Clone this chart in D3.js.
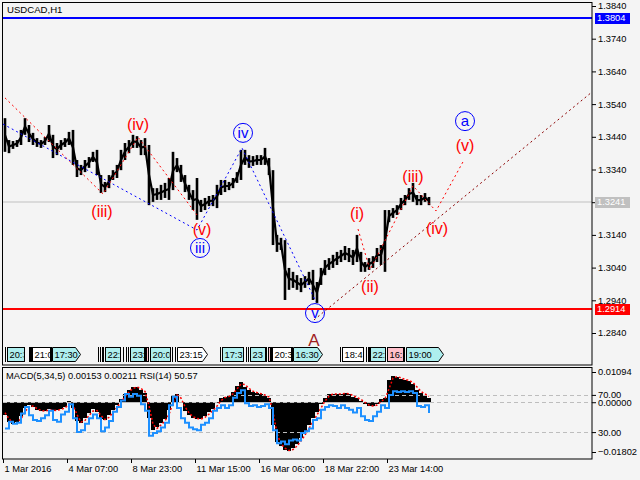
<!DOCTYPE html>
<html>
<head>
<meta charset="utf-8">
<script src="https://cdn.jsdelivr.net/npm/d3@7"></script>
<style>
  body { margin: 0; background: #f4f4f4; }
  svg { display: block; font-family: "Liberation Sans", Arial, sans-serif; }
</style>
</head>
<body>
<svg id="chart" width="640" height="480"></svg>
<script>
// USDCAD H1, each entry = one 4-hour block (high / low)
const barHigh = [
  1.3497, 1.3430, 1.3427, 1.3430, 1.3461, 1.3497, 1.3476, 1.3452, 1.3436, 1.3430,
  1.3439, 1.3476, 1.3446, 1.3421, 1.3430, 1.3436, 1.3455, 1.3461, 1.3369, 1.3354,
  1.3369, 1.3378, 1.3394, 1.3400, 1.3323, 1.3302, 1.3323, 1.3338, 1.3354, 1.3400,
  1.3421, 1.3430, 1.3446, 1.3442, 1.3430, 1.3436, 1.3415, 1.3283, 1.3283, 1.3293,
  1.3299, 1.3314, 1.3394, 1.3375, 1.3354, 1.3323, 1.3293, 1.3277, 1.3314, 1.3247,
  1.3253, 1.3259, 1.3262, 1.3293, 1.3308, 1.3308, 1.3302, 1.3314, 1.3332, 1.3400,
  1.3400, 1.3384, 1.3381, 1.3384, 1.3384, 1.3406, 1.3375, 1.3338, 1.3140, 1.3131,
  1.3124, 1.3039, 1.3027, 1.3017, 1.3008, 1.3014, 1.3027, 1.3033, 1.2996, 1.3039,
  1.3063, 1.3069, 1.3079, 1.3088, 1.3094, 1.3106, 1.3100, 1.3094, 1.3140, 1.3088,
  1.3057, 1.3069, 1.3075, 1.3100, 1.3109, 1.3216, 1.3216, 1.3222, 1.3231, 1.3253,
  1.3262, 1.3283, 1.3299, 1.3262, 1.3262, 1.3268, 1.3256
];
const barLow = [
  1.3394, 1.3390, 1.3403, 1.3409, 1.3415, 1.3446, 1.3424, 1.3415, 1.3409, 1.3406,
  1.3415, 1.3424, 1.3375, 1.3384, 1.3400, 1.3409, 1.3415, 1.3354, 1.3317, 1.3323,
  1.3332, 1.3345, 1.3363, 1.3323, 1.3268, 1.3271, 1.3283, 1.3308, 1.3314, 1.3338,
  1.3369, 1.3390, 1.3406, 1.3406, 1.3384, 1.3384, 1.3231, 1.3241, 1.3247, 1.3247,
  1.3253, 1.3247, 1.3277, 1.3332, 1.3302, 1.3271, 1.3247, 1.3216, 1.3186, 1.3210,
  1.3216, 1.3228, 1.3228, 1.3222, 1.3262, 1.3271, 1.3277, 1.3283, 1.3299, 1.3308,
  1.3354, 1.3345, 1.3351, 1.3354, 1.3354, 1.3354, 1.3323, 1.3109, 1.3088, 1.3094,
  1.2941, 1.2972, 1.2978, 1.2972, 1.2965, 1.2978, 1.2987, 1.2941, 1.2932, 1.2987,
  1.3017, 1.3033, 1.3039, 1.3048, 1.3057, 1.3063, 1.3057, 1.3048, 1.3057, 1.3027,
  1.3027, 1.3033, 1.3039, 1.3057, 1.3048, 1.3027, 1.3179, 1.3192, 1.3201, 1.3216,
  1.3231, 1.3247, 1.3241, 1.3231, 1.3231, 1.3241, 1.3231
];
const macdMain = [
  -0.00463, -0.00717, -0.00789, -0.00717, -0.00500, -0.00210, -0.00101, -0.00174, -0.00282, -0.00319,
  -0.00319, -0.00246, -0.00319, -0.00282, -0.00246, -0.00174, 0.00043, -0.00210, -0.00681, -0.00753,
  -0.00572, -0.00391, -0.00246, -0.00355, -0.00608, -0.00644, -0.00463, -0.00282, -0.00101, 0.00116,
  0.00297, 0.00442, 0.00550, 0.00550, 0.00442, 0.00333, -0.00572, -0.01006, -0.00898, -0.00753,
  -0.00608, -0.00282, 0.00224, 0.00297, 0.00007, -0.00319, -0.00463, -0.00572, -0.00608, -0.00608,
  -0.00500, -0.00355, -0.00246, -0.00029, 0.00152, 0.00188, 0.00224, 0.00369, 0.00586, 0.00731,
  0.00550, 0.00442, 0.00369, 0.00333, 0.00297, 0.00224, 0.00152, -0.00825, -0.01441, -0.01586,
  -0.01730, -0.01767, -0.01658, -0.01513, -0.01296, -0.01079, -0.00825, -0.00572, -0.00355, -0.00065,
  0.00152, 0.00297, 0.00297, 0.00297, 0.00297, 0.00333, 0.00297, 0.00188, 0.00152, 0.00043,
  -0.00065, -0.00138, -0.00138, -0.00065, 0.00116, 0.00152, 0.00804, 0.00948, 0.00912, 0.00840,
  0.00804, 0.00767, 0.00659, 0.00442, 0.00333, 0.00260, 0.00153
];
const macdSignal = [
  -0.00380, -0.00600, -0.00750, -0.00750, -0.00600, -0.00350, -0.00160, -0.00140, -0.00230, -0.00300,
  -0.00320, -0.00280, -0.00290, -0.00300, -0.00260, -0.00210, -0.00060, -0.00090, -0.00450, -0.00720,
  -0.00660, -0.00480, -0.00320, -0.00300, -0.00480, -0.00630, -0.00550, -0.00370, -0.00190, 0.00000,
  0.00200, 0.00370, 0.00500, 0.00550, 0.00500, 0.00390, -0.00120, -0.00800, -0.00950, -0.00820,
  -0.00680, -0.00440, -0.00030, 0.00260, 0.00150, -0.00160, -0.00390, -0.00520, -0.00590, -0.00610,
  -0.00550, -0.00430, -0.00300, -0.00140, 0.00060, 0.00170, 0.00210, 0.00300, 0.00480, 0.00660,
  0.00640, 0.00500, 0.00400, 0.00350, 0.00310, 0.00260, 0.00190, -0.00340, -0.01130, -0.01510,
  -0.01660, -0.01750, -0.01710, -0.01590, -0.01400, -0.01190, -0.00950, -0.00700, -0.00460, -0.00210,
  0.00040, 0.00220, 0.00300, 0.00300, 0.00300, 0.00320, 0.00310, 0.00240, 0.00170, 0.00100,
  -0.00010, -0.00100, -0.00140, -0.00100, 0.00020, 0.00130, 0.00480, 0.00870, 0.00930, 0.00880,
  0.00820, 0.00790, 0.00710, 0.00550, 0.00390, 0.00300, 0.00211
];
const rsiValues = [
  34, 41, 39, 40, 50, 57, 48, 43, 42, 45,
  48, 53, 43, 41, 49, 52, 60, 45, 30, 32,
  39, 45, 49, 45, 31, 35, 42, 52, 57, 64,
  71, 68, 71, 69, 60, 53, 26, 29, 31, 35,
  40, 59, 68, 56, 45, 40, 35, 33, 32, 38,
  40, 45, 53, 56, 59, 56, 59, 67, 72, 75,
  61, 58, 59, 57, 58, 60, 56, 32, 18, 20,
  17, 21, 22, 21, 29, 31, 34, 43, 45, 54,
  57, 59, 58, 56, 59, 56, 54, 51, 56, 47,
  43, 42, 47, 52, 59, 56, 70, 74, 73, 74,
  73, 74, 72, 58, 57, 59, 50.57
];

const priceTicks = [1.3840, 1.3740, 1.3640, 1.3540, 1.3440, 1.3340, 1.3240, 1.3140, 1.3040, 1.2940, 1.2840];
const macdTicks = [0.01094, 0, -0.01802];
const rsiTicks = [70, 30];
const timeTickHours = [0, 64, 128, 192, 256, 320, 384];
const timeTickLabels = ["1 Mar 2016", "4 Mar 07:00", "8 Mar 23:00", "11 Mar 15:00", "16 Mar 06:00", "18 Mar 22:00", "23 Mar 14:00"];

// horizontal levels
const levelPrices = [1.3804, 1.3241, 1.2914];

// wave marking, [hour, price]
const minorWaveLeft = [[2, 1.3559], [100, 1.3265], [135, 1.3439], [194, 1.3201]];
const minorWaveRight = [[355, 1.3158], [367, 1.3033], [410, 1.3290], [433, 1.3213], [461, 1.3369]];
const minuteWave = [[0, 1.3479], [194, 1.3155], [239, 1.3406], [313, 1.2935]];
const trendLine = [[311, 1.2880], [589, 1.3577]];
const minorLabels = [["(iv)", 135, 1.3479], ["(iii)", 99, 1.3213], ["(v)", 199, 1.3158],
  ["(i)", 354, 1.3207], ["(ii)", 367, 1.2981], ["(iii)", 410, 1.3320], ["(iv)", 434, 1.3161], ["(v)", 462, 1.3415]];
const circleLabels = [["iii", 197, 1.3100], ["iv", 240, 1.3452], ["v", 312, 1.2901], ["a", 462, 1.3488]];
const majorLabels = [["A", 311, 1.2819]];

// news markers (start hour, end hour, visible time text, kind)
const newsStart = [4, 29, 49, 102, 127, 143, 147, 174, 219, 247, 265, 269, 290, 339, 367, 384, 403];
const newsEnd = [21, 48, 77, 117, 142, 145, 167, 204, 240, 262, 268, 289, 319, 360, 382, 400, 440];
const newsText = ["20:3", "21:0", "17:30", "22:", "23:", "", "20:0", "23:15", "17:3", "23", "", "20:3", "16:30", "18:4", "22:", "16:3", "19:00"];
const newsKind = ["c", "w", "c>", "c", "c", "p", "c", "w>", "c", "c", "p", "w", "c>", "w", "c", "p", "c>"];
const newsTicks = [2, 4, 26, 28, 95, 97, 99, 100, 120, 123, 125, 169, 172, 243, 363, 366];

const svg = d3.select("#chart");
const bg = "#f4f4f4";
const font = 9.3;

const x = d3.scaleLinear().domain([0, 589]).range([3, 592]);
const y = d3.scaleLinear().domain([1.2840, 1.3840]).range([333, 6]);
const yMacd = d3.scaleLinear().domain([-0.01802, 0.01094]).range([452, 372]);
const yRsi = d3.scaleLinear().domain([0, 100]).range([460, 367]);

svg.append("rect").attr("width", 640).attr("height", 480).attr("fill", bg);

const defs = svg.append("defs");
defs.append("clipPath").attr("id", "mainClip")
  .append("rect").attr("x", 3).attr("y", 2).attr("width", 589).attr("height", 363);
defs.append("clipPath").attr("id", "indClip")
  .append("rect").attr("x", 3).attr("y", 368).attr("width", 589).attr("height", 91);

const main = svg.append("g").attr("clip-path", "url(#mainClip)");
const ind = svg.append("g").attr("clip-path", "url(#indClip)");

// level lines
const levelColor = ["#0000ff", "#c0c0c0", "#ff0000"];
const levelWidth = [2, 1, 2];
levelPrices.forEach((p, i) => {
  main.append("line")
    .attr("x1", 3).attr("x2", 592)
    .attr("y1", Math.round(y(p))).attr("y2", Math.round(y(p)))
    .attr("stroke", levelColor[i]).attr("stroke-width", levelWidth[i]);
});

// price bars: high-low stems plus a thin body through the middle of each block
const mid = i => x(i * 4 + 2);
main.append("path").datum(barHigh)
  .attr("d", d3.line().x((d, i) => mid(i)).y((d, i) => y((d + barLow[i]) / 2)))
  .attr("fill", "none").attr("stroke", "#000").attr("stroke-width", 2.2);
main.selectAll("rect.bar").data(barHigh).enter().append("rect")
  .attr("class", "bar")
  .attr("x", (d, i) => mid(i) - 1.3)
  .attr("width", 2.6)
  .attr("y", d => y(d))
  .attr("height", (d, i) => y(barLow[i]) - y(d))
  .attr("fill", "#000");

// wave lines
const pathLine = d3.line().x(d => x(d[0])).y(d => y(d[1]));
main.append("path").datum(minorWaveLeft).attr("d", pathLine)
  .attr("fill", "none").attr("stroke", "#ff0000").attr("stroke-dasharray", "2,3");
main.append("path").datum(minorWaveRight).attr("d", pathLine)
  .attr("fill", "none").attr("stroke", "#ff0000").attr("stroke-dasharray", "2,3");
main.append("path").datum(minuteWave).attr("d", pathLine)
  .attr("fill", "none").attr("stroke", "#0000ff").attr("stroke-dasharray", "2,3");
main.append("path").datum(trendLine).attr("d", pathLine)
  .attr("fill", "none").attr("stroke", "#8b0000").attr("stroke-dasharray", "2,3");

// wave labels
minorLabels.forEach(d => {
  main.append("text").attr("x", x(d[1])).attr("y", y(d[2]))
    .attr("dy", "0.35em").attr("text-anchor", "middle")
    .attr("font-size", 16).attr("fill", "#ff0000").text(d[0]);
});
circleLabels.forEach(d => {
  main.append("circle").attr("cx", x(d[1])).attr("cy", y(d[2])).attr("r", 9.5)
    .attr("fill", "none").attr("stroke", "#0000ff");
  main.append("text").attr("x", x(d[1])).attr("y", y(d[2]))
    .attr("dy", "0.35em").attr("text-anchor", "middle")
    .attr("font-size", 15).attr("fill", "#0000ff").text(d[0]);
});
majorLabels.forEach(d => {
  main.append("text").attr("x", x(d[1])).attr("y", y(d[2]))
    .attr("dy", "0.35em").attr("text-anchor", "middle")
    .attr("font-size", 17).attr("fill", "#a01e1e").text(d[0]);
});

// news markers row
const newsFill = { c: "#aeeeee", w: "#ffffff", p: "#ffc0cb" };
newsTicks.forEach(h => {
  main.append("line").attr("x1", x(h) + 0.5).attr("x2", x(h) + 0.5)
    .attr("y1", 347).attr("y2", 362).attr("stroke", "#000");
});
newsStart.forEach((h, i) => {
  const x0 = Math.round(x(h)) + 0.5, x1 = Math.round(x(newsEnd[i])) + 0.5;
  const kind = newsKind[i];
  const fill = newsFill[kind[0]];
  if (kind.endsWith(">")) {
    main.append("path")
      .attr("d", `M${x0},347.5H${x1 - 5}L${x1},354.5L${x1 - 5},361.5H${x0}Z`)
      .attr("fill", fill).attr("stroke", "#000");
  } else {
    main.append("rect").attr("x", x0).attr("y", 347.5)
      .attr("width", x1 - x0).attr("height", 14)
      .attr("fill", fill).attr("stroke", "#000");
  }
  main.append("line").attr("x1", x0 - 2).attr("x2", x0 - 2)
    .attr("y1", 347).attr("y2", 362).attr("stroke", "#000");
  const box = main.append("svg").attr("x", x0 + 1).attr("y", 348)
    .attr("width", Math.max(0, x1 - x0 - 2)).attr("height", 13);
  box.append("text").attr("x", 1).attr("y", 10)
    .attr("font-size", font).attr("fill", "#000").text(newsText[i]);
});

// title
svg.append("text").attr("x", 7).attr("y", 13).attr("font-size", 9.6).text("USDCAD,H1");

// indicator pane: histogram
ind.selectAll("rect.hist").data(macdMain).enter().append("rect")
  .attr("class", "hist")
  .attr("x", (d, i) => x(i * 4))
  .attr("width", x(4) - x(0))
  .attr("y", d => Math.min(yMacd(d), yMacd(0)))
  .attr("height", d => Math.abs(yMacd(d) - yMacd(0)))
  .attr("fill", "#000");

// dashed levels
[yRsi(70), yMacd(0), yRsi(30)].forEach(v => {
  ind.append("line").attr("x1", 3).attr("x2", 592)
    .attr("y1", Math.round(v) + 0.5).attr("y2", Math.round(v) + 0.5)
    .attr("stroke", "#bdbdbd").attr("stroke-dasharray", "4,3");
});

ind.append("path").datum(macdSignal)
  .attr("d", d3.line().x((d, i) => mid(i)).y(d => yMacd(d)))
  .attr("fill", "none").attr("stroke", "#ff0000").attr("stroke-width", 1.5)
  .attr("stroke-dasharray", "2,2");
ind.append("path").datum(rsiValues)
  .attr("d", d3.line().x((d, i) => mid(i)).y(d => yRsi(d)).curve(d3.curveStepAfter))
  .attr("fill", "none").attr("stroke", "#1e90ff").attr("stroke-width", 2);

svg.append("text").attr("x", 6).attr("y", 379).attr("font-size", font)
  .text(`MACD(5,34,5) ${d3.format(".5f")(macdMain[macdMain.length - 1])} ${d3.format(".5f")(macdSignal[macdSignal.length - 1])} RSI(14) ${d3.format(".2f")(rsiValues[rsiValues.length - 1])}`);

// pane borders
svg.append("rect").attr("x", 2.5).attr("y", 2.5).attr("width", 589.5).attr("height", 362.5)
  .attr("fill", "none").attr("stroke", "#000");
svg.append("rect").attr("x", 2.5).attr("y", 367.5).attr("width", 589.5).attr("height", 91.5)
  .attr("fill", "none").attr("stroke", "#000");

// axes
function styleAxis(g) {
  g.select(".domain").remove();
  g.selectAll("text").attr("font-size", font).attr("font-family", "Liberation Sans, Arial, sans-serif").attr("fill", "#000");
  g.selectAll("line").attr("stroke", "#000");
}
svg.append("g").attr("transform", "translate(592,0)")
  .call(d3.axisRight(y).tickValues(priceTicks).tickSize(4).tickPadding(2).tickFormat(d3.format(".4f")))
  .call(styleAxis);
svg.append("g").attr("transform", "translate(592,0)")
  .call(d3.axisRight(yMacd).tickValues(macdTicks).tickSize(4).tickPadding(2).tickFormat(d3.format(".5f")))
  .call(styleAxis);
svg.append("g").attr("transform", "translate(592,0)")
  .call(d3.axisRight(yRsi).tickValues(rsiTicks).tickSize(4).tickPadding(2).tickFormat(d3.format(".2f")))
  .call(styleAxis);

// level price tags
const tagFill = ["#0000ff", "#c0c0c0", "#ff0000"];
levelPrices.forEach((p, i) => {
  const yy = Math.round(y(p));
  svg.append("rect").attr("x", 595).attr("y", yy - 5).attr("width", 35).attr("height", 11).attr("fill", tagFill[i]);
  svg.append("text").attr("x", 597).attr("y", yy).attr("dy", "0.35em")
    .attr("font-size", font).attr("fill", "#fff").text(d3.format(".4f")(p));
});

svg.append("g").attr("transform", "translate(0,459)")
  .call(d3.axisBottom(x).tickValues(timeTickHours).tickSize(4).tickPadding(2)
    .tickFormat((d, i) => timeTickLabels[i]))
  .call(styleAxis)
  .call(g => g.selectAll("text").attr("text-anchor", "start").attr("dx", 1));
</script>
</body>
</html>
